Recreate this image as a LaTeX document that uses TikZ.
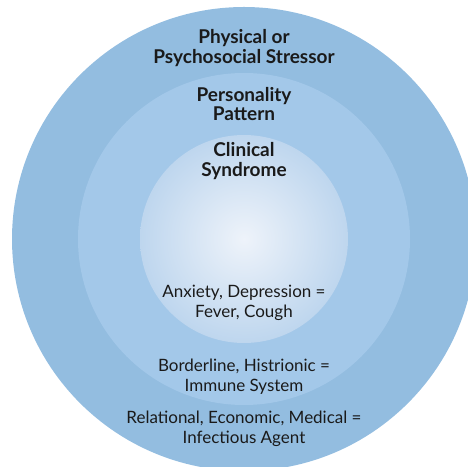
\documentclass[tikz,border=0pt]{standalone}
\usepackage{fontspec}
\setmainfont{Lato}
\definecolor{stressorblue}{RGB}{147,189,224}
\definecolor{patternblue}{RGB}{163,200,233}
\definecolor{syndromeedge}{RGB}{190,214,238}
\definecolor{syndromecore}{RGB}{238,243,250}
\definecolor{labeltext}{RGB}{26,26,26}

\begin{document}
\begin{tikzpicture}[x=1pt,y=1pt,
    title/.style={align=center,text=labeltext,font=\fontsize{19}{19.5}\selectfont\bfseries},
    analogy/.style={align=center,text=labeltext,font=\fontsize{17}{20}\selectfont}]
        \useasboundingbox (0,0) rectangle (468,466);
        \clip (0,0) rectangle (468,466);
        % rings, from the outside in
        \coordinate (c) at (244,227);
        \fill[stressorblue] (c) circle (232);
        \fill[patternblue] (c) circle (166);
        \shade[inner color=syndromecore,outer color=syndromeedge] (c) circle (104);
        % ring titles
        \node[title] (stressor) at (244,418) {Physical or\\Psychosocial Stressor};
        \node[title] (pattern) at (244,362) {Personality\\Pattern};
        \node[title] (syndrome) at (244,305) {Clinical\\Syndrome};
        % what each ring stands for
        \node[analogy] (symptoms) at (244,163.5) {Anxiety, Depression =\\Fever, Cough};
        \node[analogy] (immune) at (244,89) {Borderline, Histrionic =\\Immune System};
        \node[analogy] (agent) at (244,37) {Relational, Economic, Medical =\\Infectious Agent};
\end{tikzpicture}
\end{document}
